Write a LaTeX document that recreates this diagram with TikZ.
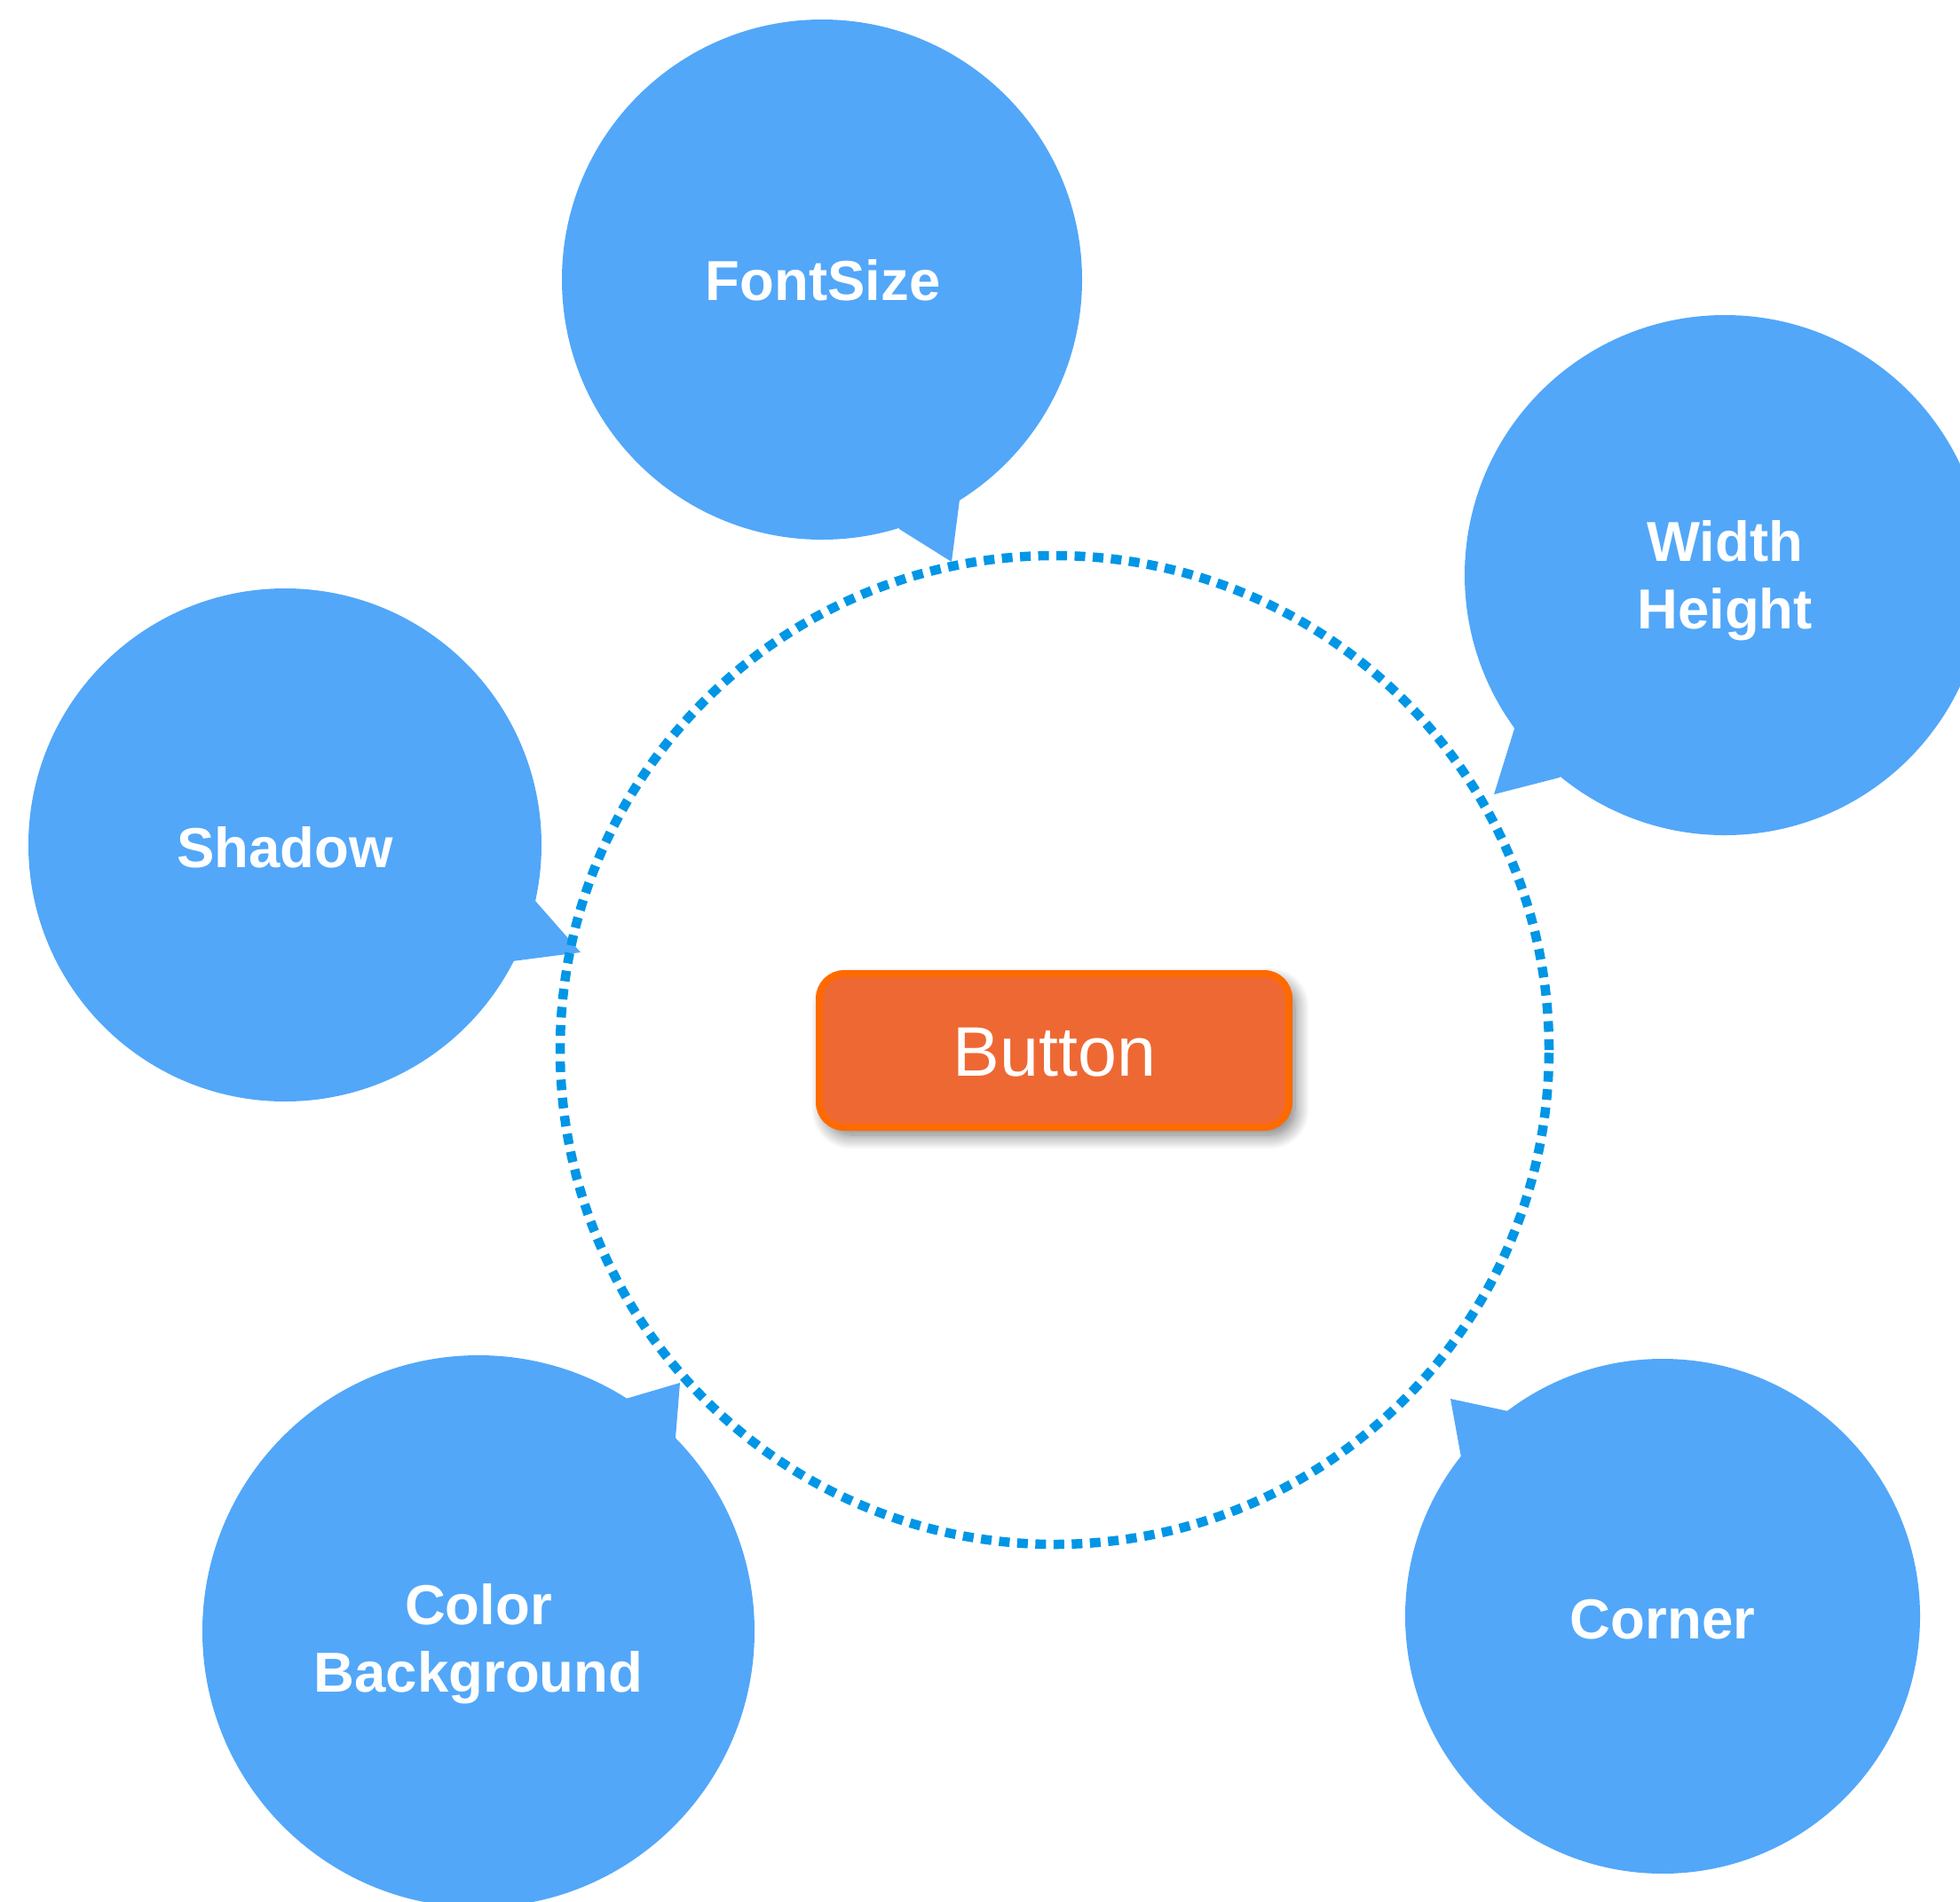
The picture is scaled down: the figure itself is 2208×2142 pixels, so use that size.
\documentclass[tikz,border=0pt]{standalone}
\usepackage{fontspec}
\setmainfont{Liberation Sans}
\usetikzlibrary{shadows.blur}
\definecolor{bubblecol}{RGB}{82,167,249}
\definecolor{ringcol}{RGB}{0,150,230}
\definecolor{btnfill}{RGB}{238,104,51}
\definecolor{btnline}{RGB}{255,106,0}
\tikzset{
  bubble/.style={circle, fill=bubblecol, inner sep=0pt},
  lbl/.style={inner sep=0pt, text=white, align=center, text depth=0pt,
    font=\fontsize{63.5}{76}\selectfont\bfseries},
  tail/.style={fill=bubblecol},
  ring/.style={circle, draw=ringcol, line width=10.5pt, dash pattern=on 12pt off 8.5pt, inner sep=0pt},
  btn/.style={rectangle, rounded corners=28pt, fill=btnfill, draw=btnline, line width=8pt,
    blur shadow={shadow xshift=7pt, shadow yshift=-9pt, shadow blur radius=16pt,
      shadow blur steps=16, shadow opacity=55, shadow blur extra rounding=6pt}},
  btntext/.style={inner sep=0pt, text=white, text depth=0pt, font=\fontsize{79}{84}\selectfont}
}
\begin{document}
\begin{tikzpicture}[x=1pt,y=-1pt]
\useasboundingbox (0,0) rectangle (2208,2142);
\clip (0,0) rectangle (2208,2142);
% bubbles
\node[bubble, minimum size=586pt] (fs) at (926,315) {};
\node[bubble, minimum size=586pt] (wh) at (1943,648) {};
\node[bubble, minimum size=578pt] (sh) at (321,952) {};
\node[bubble, minimum size=622pt] (cb) at (539,1838) {};
\node[bubble, minimum size=580pt] (co) at (1873,1821) {};
% tails
\coordinate (fstip) at (1072,633);
\coordinate (whtip) at (1683,895);
\coordinate (shtip) at (654,1073);
\coordinate (cbtip) at (766,1558);
\coordinate (cotip) at (1634,1576);
\fill[tail] (fs.center) -- (1013,596) -- (fstip) -- (1081,563) -- cycle;
\fill[tail] (wh.center) -- (1706,821) -- (whtip) -- (1757,876) -- cycle;
\fill[tail] (sh.center) -- (603,1015) -- (shtip) -- (577,1083) -- cycle;
\fill[tail] (cb.center) -- (705,1576) -- (cbtip) -- (761,1620) -- cycle;
\fill[tail] (co.center) -- (1699,1590) -- (cotip) -- (1646,1642) -- cycle;
% labels
\node[lbl] (fsl) at (927,315) {FontSize};
\node[lbl] (whl) at (1943,647) {Width\\Height};
\node[lbl] (shl) at (321,954) {Shadow};
\node[lbl] (cbl) at (539,1845) {Color\\Background};
\node[lbl] (col) at (1873,1824) {Corner};
% dotted ring
\node[ring, minimum size=1114pt] (rg) at (1188,1183) {};
% button
\node[btn, minimum width=529pt, minimum height=173pt] (bt) at (1187.5,1183.5) {};
\node[btntext] (btl) at (1188,1185) {Button};
\end{tikzpicture}
\end{document}
